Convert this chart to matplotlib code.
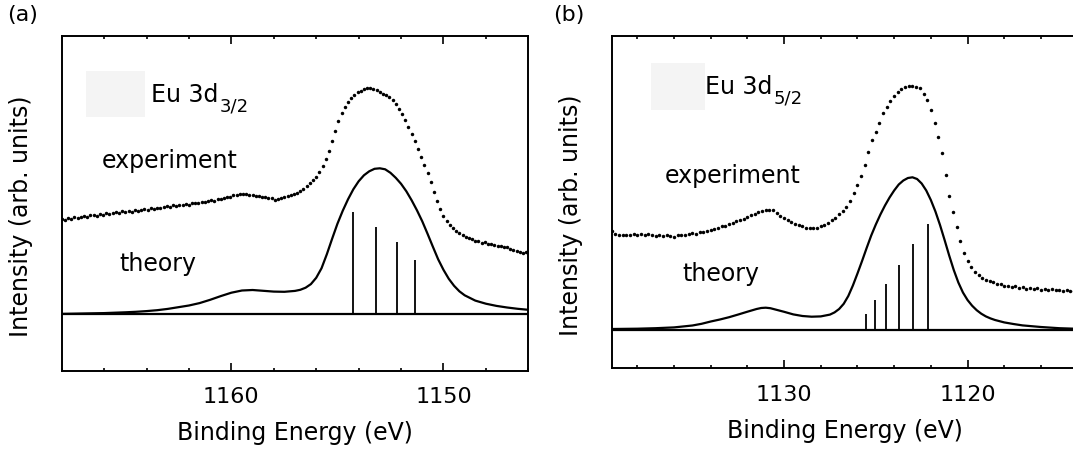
import numpy as np
import matplotlib
matplotlib.use("Agg")
import matplotlib.pyplot as plt
from matplotlib.patches import Rectangle
from matplotlib.ticker import MultipleLocator

# ---------------- panel (a): Eu 3d3/2 ----------------
a_theory_E = [1168.0, 1167.0, 1166.0, 1165.0, 1164.5, 1164.0, 1163.5, 1163.0, 1162.5, 1162.0,
              1161.5, 1161.0, 1160.5, 1160.0, 1159.5, 1159.0, 1158.5, 1158.0, 1157.5, 1157.0,
              1156.75, 1156.5, 1156.25, 1156.0, 1155.75, 1155.5, 1155.25, 1155.0, 1154.75, 1154.5,
              1154.25, 1154.0, 1153.75, 1153.5, 1153.25, 1153.0, 1152.75, 1152.5, 1152.25, 1152.0,
              1151.75, 1151.5, 1151.25, 1151.0, 1150.75, 1150.5, 1150.25, 1150.0, 1149.75, 1149.5,
              1149.25, 1149.0, 1148.5, 1148.0, 1147.5, 1147.0, 1146.5, 1146.0]
a_theory_I = [0.4, 0.8, 1.2, 2.0, 2.5, 3.2, 4.1, 5.4, 7.1, 8.8,
              11.2, 14.5, 18.2, 21.6, 23.8, 24.3, 23.5, 22.7, 22.5, 23.4,
              24.5, 26.6, 30.2, 36.5, 46, 60, 75.5, 90.5, 103.5, 115,
              125, 133, 139, 143, 145.5, 146, 145, 141.5, 136.5, 130.5,
              123, 114, 104, 93, 80.5, 67.6, 55, 44.5, 35.5, 28.5,
              23, 19, 13.7, 10.6, 8.4, 6.8, 5.5, 4.5]
a_stick_E = [1154.25, 1153.16, 1152.19, 1151.36]
a_stick_I = [102, 87.6, 72.6, 54.3]
a_exp_start, a_exp_step = 1168.0, 0.15
a_exp_I = [95.0, 94.5, 96.0, 95.8, 97.0, 96.2, 97.5, 98.3, 97.4, 98.9,
           99.3, 98.6, 100.2, 99.8, 101.0, 100.1, 101.3, 102.2, 101.4, 102.9,
           102.4, 103.4, 102.7, 104.1, 103.5, 104.8, 105.6, 104.7, 106.2, 105.5,
           106.8, 106.0, 107.5, 108.3, 107.4, 108.9, 108.2, 109.6, 109.0, 110.5,
           109.8, 111.0, 111.8, 111.0, 112.6, 112.1, 113.4, 114.2, 113.6, 115.0,
           115.4, 116.5, 117.2, 117.8, 119.0, 119.6, 120.5, 120.1, 120.8, 119.8,
           119.4, 118.3, 118.0, 117.2, 117.6, 116.4, 116.0, 114.8, 115.8, 116.4,
           117.0, 118.2, 119.0, 120.0, 121.4, 123.2, 125.8, 128.5, 131.0, 134.0,
           137.6, 142, 148, 155, 163, 173, 183, 193, 201, 207.5,
           212.5, 216.5, 219.5, 222, 223.8, 225.2, 226, 226.2, 225.5, 224.2,
           222.6, 220.8, 219, 217, 214.3, 210.5, 205.5, 200, 194.3, 187.5,
           180.5, 173, 165.5, 157.5, 149.5, 141, 132, 122.5, 113, 105,
           98, 93, 89.5, 86.5, 83.5, 81.5, 79, 77.8, 76.2, 75.6,
           73.8, 73.2, 71.5, 72.0, 70.4, 70.8, 69.1, 68.0, 68.6, 66.9,
           67.3, 65.6, 64.0, 63.2, 62.6, 61.0, 62.0]

# ---------------- panel (b): Eu 3d5/2 ----------------
b_theory_E = [1139.4, 1138.0, 1137.0, 1136.0, 1135.0, 1134.5, 1134.0, 1133.5, 1133.0, 1132.5,
              1132.0, 1131.5, 1131.25, 1131.0, 1130.75, 1130.5, 1130.0, 1129.5, 1129.0, 1128.5,
              1128.0, 1127.5, 1127.25, 1127.0, 1126.75, 1126.5, 1126.25, 1126.0, 1125.75, 1125.5,
              1125.25, 1125.0, 1124.75, 1124.5, 1124.25, 1124.0, 1123.75, 1123.5, 1123.25, 1123.0,
              1122.75, 1122.5, 1122.25, 1122.0, 1121.75, 1121.5, 1121.25, 1121.0, 1120.75, 1120.5,
              1120.25, 1120.0, 1119.75, 1119.5, 1119.25, 1119.0, 1118.75, 1118.5, 1118.0, 1117.5,
              1117.0, 1116.0, 1115.0, 1114.0]
b_theory_I = [1.0, 1.3, 1.8, 2.6, 4.5, 6.2, 8.5, 10.5, 12.8, 15.5,
              18.3, 21.0, 22.0, 22.3, 21.8, 20.6, 18.2, 15.6, 14.0, 13.3,
              13.6, 15.4, 17.6, 21.0, 26.2, 34.0, 44.5, 56.5, 69.0, 82.0,
              94.5, 105.5, 115.5, 124.5, 132.5, 139.5, 145.5, 149.5, 152.0, 152.7,
              151.0, 146.5, 139.5, 130.0, 118.5, 105.0, 90.0, 74.5, 60.0, 47.5,
              37.5, 30.0, 24.3, 19.8, 16.3, 13.6, 11.6, 10.0, 7.6, 6.0,
              4.6, 3.0, 1.8, 1.2]
b_stick_E = [1125.51, 1125.05, 1124.47, 1123.76, 1122.98, 1122.15]
b_stick_I = [16, 30, 46, 65, 86, 106]
b_exp_start, b_exp_step = 1139.4, 0.2
b_exp_I = [99.5, 96.0, 95.2, 94.6, 95.5, 94.8, 95.8, 94.9, 95.6, 95.0,
           96.1, 95.2, 94.5, 95.3, 94.4, 94.9, 93.8, 93.3, 94.8, 95.4,
           95.0, 96.3, 96.9, 96.2, 97.8, 98.5, 99.2, 100.2, 101.5, 102.1,
           103.6, 104.5, 105.8, 107.0, 108.6, 110.1, 111.5, 113.4, 114.8, 116.5,
           118.2, 119.0, 120.4, 120.0, 119.6, 116.7, 114.2, 112.0, 109.6, 107.9,
           106.4, 104.6, 103.8, 102.5, 101.7, 102.4, 102.0, 103.9, 105.5, 107.2,
           109.8, 112.5, 115.8, 119.4, 123.3, 129.5, 137.0, 145.0, 154.5, 165.0,
           178.5, 190.0, 198.5, 207.5, 216.7, 223.5, 229.5, 234.0, 238.0, 241.0,
           243.0, 244.0, 244.5, 243.5, 241.7, 236.5, 230.0, 220.0, 207.0, 192.7,
           177.0, 155.0, 134.5, 118.5, 103.3, 89.0, 76.7, 69.0, 63.0, 58.5,
           55.0, 52.5, 50.5, 48.6, 47.8, 46.2, 45.6, 44.2, 43.8, 42.9,
           43.6, 42.1, 42.8, 41.5, 42.3, 40.9, 41.6, 40.4, 41.2, 40.0,
           40.8, 39.6, 40.3, 39.1, 39.9, 38.7, 39.5, 38.8]

panel_labels = ["(a)", "(b)"]
level_main = ["Eu 3d", "Eu 3d"]
level_sub = ["3/2", "5/2"]
xlabel = "Binding Energy (eV)"
ylabel = "Intensity (arb. units)"

plt.rcParams['font.family'] = ['DejaVu Sans']
FS_TICK = 16
FS_LAB = 17
FS_TXT = 17
FS_SUB = 13

W, H = 1073, 453
fig = plt.figure(figsize=(W / 100, H / 100), dpi=100)


def px_axes(x0, x1, ytop, ybot):
    return fig.add_axes([x0 / W, (H - ybot) / H, (x1 - x0) / W, (ybot - ytop) / H])


ax_a = px_axes(61.7, 528.3, 35.7, 370.5)
ax_b = px_axes(611.7, 1078.3, 35.7, 368.3)

panels = [
    dict(ax=ax_a, xlim=(1168.0, 1146.0), ylim=(-56.2, 278.6),
         tE=a_theory_E, tI=a_theory_I, sE=a_stick_E, sI=a_stick_I,
         e0=a_exp_start, de=a_exp_step, eI=a_exp_I,
         rect=(1164.08, 197.3, 2.78, 46.0),
         exp_pos=(1166.12, 146.3), th_pos=(1165.26, 43.3), lev_pos=(1163.8, 212.3)),
    dict(ax=ax_b, xlim=(1139.4, 1113.96), ylim=(-38.3, 294.3),
         tE=b_theory_E, tI=b_theory_I, sE=b_stick_E, sI=b_stick_I,
         e0=b_exp_start, de=b_exp_step, eI=b_exp_I,
         rect=(1134.32, 220.0, 2.92, 47.0),
         exp_pos=(1136.5, 147.0), th_pos=(1135.54, 49.0), lev_pos=(1134.32, 236.0)),
]

for k, p in enumerate(panels):
    ax = p['ax']
    exp_E = p['e0'] - p['de'] * np.arange(len(p['eI']))
    ax.add_patch(Rectangle((p['rect'][0], p['rect'][1]), p['rect'][2], p['rect'][3],
                           facecolor='#f4f4f4', edgecolor='none', zorder=0))
    ax.axhline(0, color='black', lw=1.6, zorder=2)
    ax.plot(p['tE'], p['tI'], color='black', lw=1.6, zorder=3)
    ax.vlines(p['sE'], 0, p['sI'], color='black', lw=1.3, zorder=3)
    ax.plot(exp_E, p['eI'], linestyle='none', marker='o', ms=2.5,
            mfc='black', mec='black', mew=0, zorder=4)
    ax.set_xlim(*p['xlim'])
    ax.set_ylim(*p['ylim'])
    ax.xaxis.set_major_locator(MultipleLocator(10))
    ax.xaxis.set_minor_locator(MultipleLocator(2))
    ax.tick_params(axis='x', which='both', direction='in', top=True, bottom=True,
                   labelsize=FS_TICK, pad=12, width=1.2)
    ax.tick_params(axis='x', which='major', length=5.5)
    ax.tick_params(axis='x', which='minor', length=2.5)
    ax.set_yticks([])
    for s in ax.spines.values():
        s.set_linewidth(1.4)
    ax.set_xlabel(xlabel, fontsize=FS_LAB, labelpad=10)
    ax.set_ylabel(ylabel, fontsize=FS_LAB)
    ax.yaxis.set_label_coords(-0.062, 0.46)
    ax.text(*p['exp_pos'], "experiment", fontsize=FS_TXT, va='baseline', ha='left')
    ax.text(*p['th_pos'], "theory", fontsize=FS_TXT, va='baseline', ha='left')
    main = ax.text(*p['lev_pos'], level_main[k], fontsize=FS_TXT, va='baseline', ha='left')
    ax.annotate(level_sub[k], xy=(1, 0), xycoords=main, xytext=(1.0, -3.5),
                textcoords='offset points', fontsize=FS_SUB, va='baseline', ha='left')

fig.text(7 / W, 1 - 15 / H, panel_labels[0], fontsize=FS_TICK, va='center', ha='left')
fig.text(553 / W, 1 - 15 / H, panel_labels[1], fontsize=FS_TICK, va='center', ha='left')

fig.savefig("out.png", dpi=100)
